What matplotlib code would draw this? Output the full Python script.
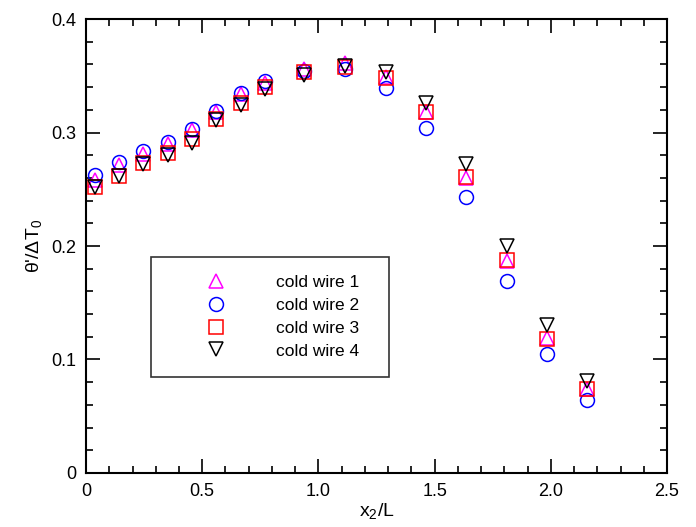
import matplotlib
matplotlib.use("Agg")
import matplotlib.pyplot as plt
from matplotlib.ticker import MultipleLocator

plt.rcParams['font.family'] = ['Liberation Sans', 'DejaVu Sans']
plt.rcParams['mathtext.fontset'] = 'custom'
plt.rcParams['mathtext.rm'] = 'Liberation Sans'
plt.rcParams['mathtext.it'] = 'Liberation Sans'

# streamwise positions x2/L
x2 = [0.039, 0.143, 0.247, 0.351, 0.455, 0.559, 0.666, 0.770,
      0.940, 1.115, 1.290, 1.463, 1.635, 1.810, 1.982, 2.157]

# theta'/dT0 for each cold wire
wire1 = [0.258, 0.271, 0.281, 0.290, 0.302, 0.318, 0.334, 0.344,
         0.356, 0.361, 0.349, 0.318, 0.260, 0.187, 0.119, 0.074]
wire2 = [0.263, 0.274, 0.284, 0.292, 0.303, 0.319, 0.335, 0.345,
         0.354, 0.356, 0.339, 0.304, 0.243, 0.169, 0.105, 0.064]
wire3 = [0.252, 0.262, 0.273, 0.282, 0.294, 0.312, 0.326, 0.340,
         0.353, 0.358, 0.348, 0.318, 0.261, 0.188, 0.118, 0.074]
wire4 = [0.252, 0.262, 0.272, 0.280, 0.291, 0.311, 0.324, 0.338,
         0.351, 0.359, 0.353, 0.326, 0.272, 0.200, 0.130, 0.081]

labels = ["cold wire 1", "cold wire 2", "cold wire 3", "cold wire 4"]

fig = plt.figure(figsize=(6.96, 5.27), dpi=100)
ax = fig.add_axes([0.1236, 0.1025, 0.8347, 0.8614])

ms = 10
mew = 1.1
ax.plot(x2, wire1, linestyle='none', marker='^', ms=ms, mfc='none', mec='#ff00ff', mew=mew, label=labels[0])
ax.plot(x2, wire2, linestyle='none', marker='o', ms=ms, mfc='none', mec='#0000ff', mew=mew, label=labels[1])
ax.plot(x2, wire3, linestyle='none', marker='s', ms=ms, mfc='none', mec='#ff0000', mew=mew, label=labels[2])
ax.plot(x2, wire4, linestyle='none', marker='v', ms=ms, mfc='none', mec='black', mew=mew, label=labels[3])

ax.set_xlim(0, 2.5)
ax.set_ylim(0, 0.4)
ax.xaxis.set_minor_locator(MultipleLocator(0.1))
ax.yaxis.set_minor_locator(MultipleLocator(0.02))
ax.set_xticks([0, 0.5, 1.0, 1.5, 2.0, 2.5])
ax.set_xticklabels(['0', '0.5', '1.0', '1.5', '2.0', '2.5'])
ax.set_yticks([0, 0.1, 0.2, 0.3, 0.4])
ax.set_yticklabels(['0', '0.1', '0.2', '0.3', '0.4'])

ax.tick_params(which='both', direction='in', top=True, right=True, width=1.2, labelsize=13, pad=7)
ax.tick_params(which='major', length=10)
ax.tick_params(which='minor', length=5)
for sp in ax.spines.values():
    sp.set_linewidth(1.5)

ax.set_xlabel(r"x$_{2}$/L", fontsize=14, labelpad=1)
ax.set_ylabel(r"θ'/ΔT$_{0}$", fontsize=14, labelpad=5)

leg = ax.legend(loc='upper left', bbox_to_anchor=(0.1119, 0.2137, 0.4096, 0.2621),
                mode='expand', fontsize=12.5, frameon=True, fancybox=False,
                numpoints=1, handlelength=5.42, handletextpad=0.75,
                labelspacing=0.44, borderpad=1.04, borderaxespad=0)
leg.get_frame().set_edgecolor('black')
leg.get_frame().set_linewidth(1.2)

fig.savefig("out.png", dpi=100)
